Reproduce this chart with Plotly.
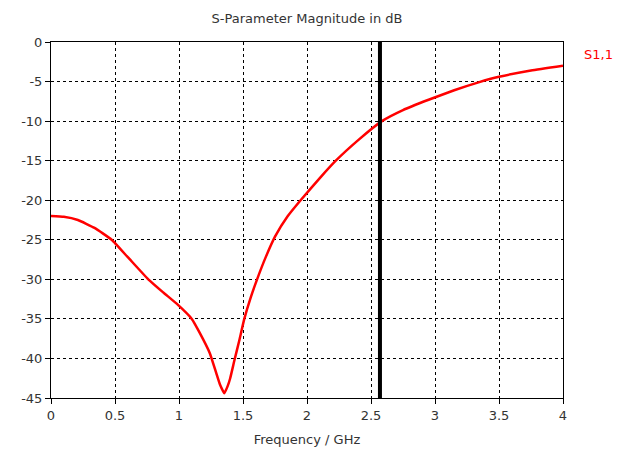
import plotly.graph_objects as go

freq_ghz = [0.0, 0.1, 0.21, 0.34, 0.474, 0.6, 0.76, 0.88, 0.99, 1.10, 1.16, 1.24, 1.29, 1.32, 1.354,
            1.38, 1.40, 1.432, 1.47, 1.51, 1.56, 1.61, 1.68, 1.75, 1.85, 1.95, 2.1, 2.225, 2.4, 2.585,
            2.75, 2.95, 3.15, 3.34, 3.5, 3.75, 4.0]
s11_db = [-22.0, -22.1, -22.5, -23.5, -25.0, -27.2, -30.0, -31.7, -33.2, -35.0, -36.7, -39.3, -41.8, -43.3, -44.4,
          -43.5, -42.5, -40.3, -37.8, -35.0, -32.3, -30.0, -27.1, -24.6, -22.0, -20.0, -17.2, -15.0, -12.4, -10.0,
          -8.6, -7.3, -6.1, -5.1, -4.4, -3.6, -3.0]
marker_freq = 2.57
series_name = "S1,1"
x_ticks = [0, 0.5, 1, 1.5, 2, 2.5, 3, 3.5, 4]
y_ticks = [0, -5, -10, -15, -20, -25, -30, -35, -40, -45]

font_family = "DejaVu Sans"
text_color = "#333333"

fig = go.Figure()
fig.add_trace(go.Scatter(x=freq_ghz, y=s11_db, mode="lines",
                         line=dict(color="#ff0000", width=2.5, shape="spline", smoothing=0.4),
                         name=series_name, showlegend=False))

fig.add_vline(x=marker_freq, line=dict(color="black", width=4), layer="above")

fig.add_annotation(x=freq_ghz[-1], y=s11_db[-1], text=series_name, showarrow=False,
                   xanchor="left", yanchor="bottom", xshift=19, yshift=2,
                   font=dict(color="#ff0000", size=13, family=font_family))

axis_common = dict(showline=True, linecolor="black", linewidth=1, mirror=True,
                   ticks="outside", ticklen=5, tickcolor="black",
                   showgrid=True, gridcolor="black", gridwidth=1, griddash="3px,3px",
                   zeroline=False, automargin=False,
                   tickfont=dict(size=13, color=text_color, family=font_family))

fig.update_xaxes(range=[0, 4], tickvals=x_ticks, ticktext=[str(t) for t in x_ticks],
                 title=dict(text="Frequency / GHz", font=dict(size=13, color=text_color, family=font_family), standoff=13),
                 **axis_common)
fig.update_yaxes(range=[-45, 0], tickvals=y_ticks, ticktext=[str(t) for t in y_ticks],
                 **axis_common)

fig.update_layout(
    width=627, height=451,
    margin=dict(l=51, r=64, t=42, b=53),
    paper_bgcolor="white", plot_bgcolor="white",
    title=dict(text="S-Parameter Magnitude in dB", x=(51 + 563) / 2 / 627, xanchor="center",
               y=1 - 18 / 451, yanchor="middle",
               font=dict(size=13, color=text_color, family=font_family)),
    font=dict(family=font_family),
)

fig.write_html("out.html", config={"displayModeBar": False},
               post_script="document.body.style.margin='0';document.body.style.overflow='hidden';")
